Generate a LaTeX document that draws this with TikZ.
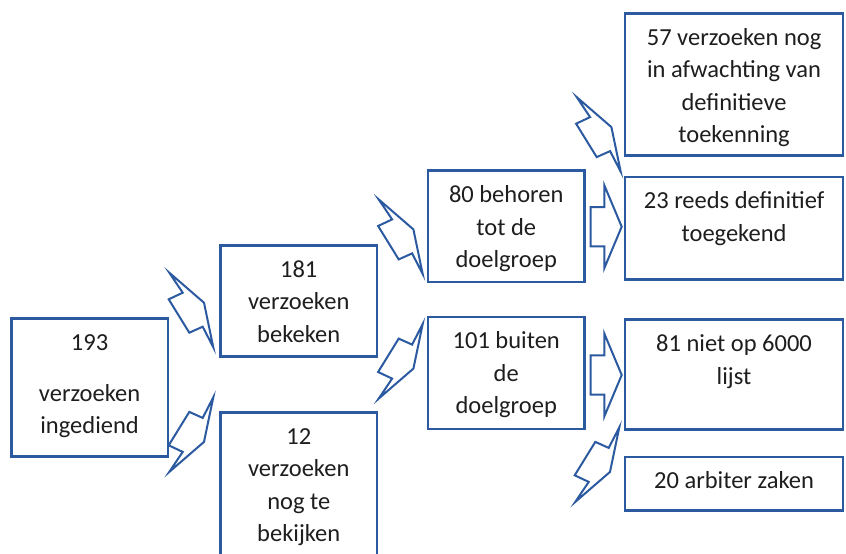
\documentclass[tikz,border=0pt]{standalone}
\usepackage{fontspec}
\setmainfont{Carlito}
\definecolor{bl}{RGB}{44,90,160}
\definecolor{tx}{RGB}{30,30,30}
\tikzset{
  box/.style={draw=bl,line width=2.5pt,inner sep=0pt,anchor=north west},
  lbl/.style={anchor=north,align=center,inner sep=0pt,text=tx,yshift=-10.25pt,
    font=\fontsize{24.5}{32.5}\selectfont},
  barrow/.style={draw=bl,line width=2pt,line join=miter},
  arrowdn/.pic={\draw[barrow] (0,0) -- (-9.3,-44.6) -- (-44,-74.6) -- (-30.6,-54.6)
     -- (-44.6,-48) -- (-24,-14.6) -- (-10.6,-20.6) -- cycle;},
  arrowup/.pic={\draw[barrow] (0,0) -- (-9.3,44.6) -- (-44,74.6) -- (-30.6,54.6)
     -- (-44.6,48) -- (-24,14.6) -- (-10.6,20.6) -- cycle;},
  arrowrt/.pic={\draw[barrow] (0,0) -- (-17.4,-41.5) -- (-17.4,-19.7) -- (-31,-19.7)
     -- (-31,19.7) -- (-17.4,19.7) -- (-17.4,41.5) -- cycle;}
}
\newcommand{\st}{\strut}
\begin{document}
\begin{tikzpicture}[x=1pt,y=-1pt]
\clip (0,0) rectangle (846,554);
\fill[white] (0,0) rectangle (846,554);
% boxes
\node[box,minimum width=156.7pt,minimum height=138pt] (b193) at (10,317.3) {};
\node[box,minimum width=156.4pt,minimum height=111.3pt] (b181) at (219.3,244) {};
\node[box,minimum width=156.4pt,minimum height=200pt] (b12) at (219.3,411) {};
\node[box,minimum width=156.6pt,minimum height=111.4pt] (b80) at (426.7,169.3) {};
\node[box,minimum width=156.6pt,minimum height=112pt] (b101) at (426.7,315.7) {};
\node[box,minimum width=217.8pt,minimum height=142pt] (b57) at (623.9,12) {};
\node[box,minimum width=217.8pt,minimum height=102.6pt] (b23) at (623.9,175.7) {};
\node[box,minimum width=217.8pt,minimum height=110pt] (b81) at (623.9,318.3) {};
\node[box,minimum width=217.8pt,minimum height=53.6pt] (b20) at (623.9,455.7) {};
% labels
\node[lbl] (t193) at (b193.north) {\st 193\\[18pt]\st verzoeken\\\st ingediend};
\node[lbl] (t181) at (b181.north) {\st 181\\\st verzoeken\\\st bekeken};
\node[lbl] (t12) at (b12.north) {\st 12\\\st verzoeken\\\st nog te\\\st bekijken};
\node[lbl] (t80) at (b80.north) {\st 80 behoren\\\st tot de\\\st doelgroep};
\node[lbl] (t101) at (b101.north) {\st 101 buiten\\\st de\\\st doelgroep};
\node[lbl] (t57) at (b57.north) {\st 57 verzoeken nog\\\st in afwachting van\\\st definitieve\\\st toekenning};
\node[lbl] (t23) at (b23.north) {\st 23 reeds definitief\\\st toegekend};
\node[lbl] (t81) at (b81.north) {\st 81 niet op 6000\\\st lijst};
\node[lbl] (t20) at (b20.north) {\st 20 arbiter zaken};
% block arrows
\coordinate (a1) at (213.3,347.3);
\coordinate (a2) at (213.3,397.3);
\coordinate (a3) at (422.7,274);
\coordinate (a4) at (422.7,324);
\coordinate (a5) at (620.7,171.7);
\coordinate (a6) at (621.7,226.7);
\coordinate (a7) at (621.7,375);
\coordinate (a8) at (619.3,427.3);
\pic at (a1) {arrowdn};
\pic at (a2) {arrowup};
\pic at (a3) {arrowdn};
\pic at (a4) {arrowup};
\pic at (a5) {arrowdn};
\pic at (a6) {arrowrt};
\pic at (a7) {arrowrt};
\pic at (a8) {arrowup};
\end{tikzpicture}
\end{document}
